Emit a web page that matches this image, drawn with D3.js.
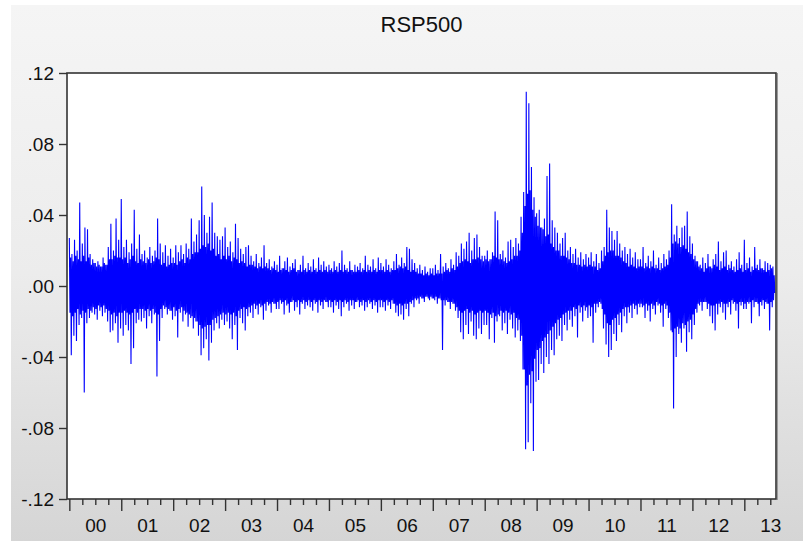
<!DOCTYPE html>
<html>
<head>
<meta charset="utf-8">
<script src="https://cdn.jsdelivr.net/npm/d3@7"></script>
<style>
  html, body { margin: 0; padding: 0; background: #ffffff; }
  svg { display: block; }
  text { font-family: "Liberation Sans", Arial, sans-serif; fill: #111; }
</style>
</head>
<body>
<svg id="chart" width="803" height="541"></svg>
<script>
// Chart title and tick labels
const title = "RSP500";
const yTicks = [-0.12, -0.08, -0.04, 0.00, 0.04, 0.08, 0.12];
const yTickLabels = ["-.12", "-.08", "-.04", ".00", ".04", ".08", ".12"];
const years = [2000, 2001, 2002, 2003, 2004, 2005, 2006, 2007, 2008, 2009, 2010, 2011, 2012, 2013];
const yearLabels = ["00", "01", "02", "03", "04", "05", "06", "07", "08", "09", "10", "11", "12", "13"];

// Return swings, in time order, 80 readings per year:
// groups of (up-swing, core low, core high, down-swing).
const r2000 = [.027,-.015,.016,-.039, .018,-.017,.014,-.028, .026,-.015,.017,-.031, .020,-.013,.015,-.022, .047,-.016,.014,-.018,
               .024,-.014,.017,-.060, .033,-.015,.014,-.021, .032,-.013,.016,-.018, .018,-.014,.012,-.015, .015,-.012,.013,-.016,
               .013,-.013,.011,-.019, .014,-.011,.012,-.014, .011,-.012,.011,-.017, .016,-.011,.013,-.015, .012,-.013,.012,-.020,
               .022,-.014,.015,-.026, .035,-.016,.015,-.025, .020,-.015,.017,-.021, .038,-.017,.016,-.032, .026,-.015,.016,-.024];
const r2001 = [.049,-.015,.015,-.028, .022,-.014,.016,-.022, .026,-.015,.013,-.025, .019,-.016,.015,-.044, .024,-.015,.017,-.035,
               .043,-.013,.014,-.021, .021,-.015,.013,-.019, .029,-.013,.015,-.020, .018,-.013,.014,-.018, .020,-.014,.013,-.024,
               .016,-.013,.015,-.017, .022,-.014,.013,-.021, .017,-.013,.014,-.016, .020,-.015,.016,-.051, .038,-.016,.015,-.031,
               .024,-.013,.012,-.018, .019,-.011,.013,-.013, .023,-.012,.011,-.016, .017,-.013,.012,-.014, .021,-.014,.013,-.019];
const r2002 = [.016,-.012,.013,-.017, .023,-.014,.012,-.029, .019,-.013,.014,-.015, .023,-.012,.015,-.020, .018,-.014,.013,-.016,
               .024,-.015,.016,-.023, .021,-.016,.015,-.018, .038,-.017,.018,-.024, .025,-.018,.019,-.020, .029,-.020,.019,-.028,
               .037,-.022,.021,-.039, .056,-.024,.023,-.035, .040,-.023,.022,-.030, .030,-.022,.024,-.042, .039,-.022,.020,-.032,
               .047,-.019,.021,-.025, .030,-.018,.017,-.021, .028,-.017,.018,-.024, .026,-.016,.015,-.019, .028,-.015,.017,-.022];
const r2003 = [.033,-.016,.015,-.020, .022,-.015,.017,-.024, .025,-.016,.014,-.030, .019,-.015,.016,-.022, .035,-.017,.015,-.036,
               .027,-.014,.013,-.018, .021,-.013,.014,-.021, .018,-.012,.013,-.025, .022,-.013,.011,-.017, .023,-.012,.012,-.015,
               .017,-.011,.012,-.018, .014,-.010,.011,-.013, .018,-.011,.010,-.016, .013,-.010,.011,-.012, .016,-.011,.010,-.019,
               .023,-.010,.011,-.014, .013,-.009,.010,-.011, .015,-.010,.009,-.015, .011,-.009,.010,-.010, .014,-.010,.009,-.013];
const r2004 = [.012,-.009,.008,-.013, .017,-.008,.009,-.010, .010,-.009,.010,-.016, .014,-.008,.009,-.011, .016,-.010,.008,-.015,
               .011,-.009,.009,-.009, .013,-.008,.010,-.014, .015,-.009,.008,-.012, .009,-.008,.009,-.016, .012,-.009,.008,-.010,
               .017,-.008,.009,-.013, .010,-.009,.008,-.011, .013,-.008,.009,-.012, .011,-.009,.008,-.014, .015,-.008,.009,-.010,
               .010,-.009,.008,-.015, .016,-.008,.009,-.011, .012,-.009,.008,-.013, .014,-.008,.009,-.009, .011,-.009,.008,-.012];
const r2005 = [.012,-.008,.009,-.012, .010,-.009,.008,-.015, .014,-.008,.009,-.011, .011,-.009,.008,-.013, .013,-.008,.009,-.017,
               .020,-.009,.008,-.012, .012,-.008,.009,-.010, .010,-.009,.008,-.014, .014,-.008,.009,-.011, .009,-.008,.008,-.013,
               .012,-.009,.008,-.009, .011,-.008,.009,-.012, .013,-.009,.008,-.011, .010,-.008,.009,-.014, .017,-.009,.008,-.012,
               .012,-.008,.009,-.010, .011,-.009,.008,-.013, .015,-.008,.009,-.011, .010,-.009,.008,-.015, .016,-.008,.009,-.012];
const r2006 = [.013,-.008,.009,-.012, .011,-.009,.008,-.014, .015,-.008,.009,-.011, .012,-.009,.008,-.013, .010,-.008,.009,-.010,
               .014,-.010,.009,-.015, .018,-.011,.010,-.017, .012,-.010,.011,-.016, .016,-.011,.010,-.019, .013,-.010,.011,-.013,
               .022,-.010,.009,-.017, .021,-.009,.008,-.010, .015,-.008,.009,-.012, .013,-.007,.008,-.008, .010,-.007,.007,-.010,
               .012,-.006,.007,-.007, .009,-.007,.006,-.009, .011,-.006,.007,-.006, .008,-.007,.006,-.008, .010,-.006,.007,-.007];
const r2007 = [.010,-.007,.006,-.008, .012,-.006,.007,-.010, .009,-.007,.007,-.007, .018,-.008,.007,-.036, .011,-.008,.008,-.011,
               .013,-.008,.009,-.009, .010,-.009,.008,-.013, .015,-.009,.010,-.010, .012,-.010,.009,-.014, .019,-.012,.011,-.018,
               .017,-.014,.013,-.026, .024,-.015,.014,-.030, .021,-.014,.015,-.022, .025,-.013,.014,-.027, .030,-.015,.013,-.020,
               .020,-.014,.015,-.028, .027,-.016,.015,-.030, .029,-.015,.016,-.024, .022,-.014,.015,-.027, .017,-.015,.014,-.022];
const r2008 = [.017,-.014,.015,-.022, .020,-.015,.014,-.030, .015,-.016,.015,-.018, .019,-.015,.017,-.032, .042,-.017,.016,-.020,
               .037,-.016,.015,-.017, .018,-.014,.015,-.025, .020,-.015,.014,-.021, .016,-.014,.013,-.027, .025,-.015,.014,-.019,
               .026,-.016,.015,-.024, .022,-.015,.017,-.029, .027,-.018,.017,-.025, .024,-.019,.020,-.031, .039,-.028,.030,-.047,
               .053,-.047,.045,-.092, .1095,-.056,.052,-.088, .103,-.050,.054,-.066, .067,-.048,.043,-.093, .050,-.041,.039,-.054];
const r2009 = [.041,-.036,.034,-.053, .043,-.035,.033,-.044, .033,-.031,.032,-.049, .038,-.029,.028,-.040, .062,-.027,.029,-.044,
               .069,-.025,.024,-.036, .037,-.023,.022,-.039, .033,-.021,.020,-.030, .030,-.019,.020,-.028, .024,-.018,.017,-.031,
               .027,-.016,.017,-.022, .030,-.015,.016,-.025, .020,-.014,.015,-.019, .022,-.014,.013,-.023, .018,-.012,.013,-.017,
               .021,-.013,.012,-.029, .016,-.011,.012,-.015, .019,-.012,.011,-.020, .015,-.011,.012,-.014, .018,-.012,.011,-.018];
const r2010 = [.016,-.011,.012,-.017, .019,-.012,.011,-.032, .014,-.010,.011,-.015, .018,-.010,.009,-.012, .013,-.009,.010,-.010,
               .020,-.013,.014,-.024, .022,-.016,.017,-.033, .043,-.021,.019,-.040, .033,-.022,.020,-.036, .031,-.019,.020,-.027,
               .026,-.018,.017,-.031, .031,-.016,.017,-.022, .024,-.015,.016,-.026, .020,-.013,.014,-.017, .022,-.012,.013,-.021,
               .018,-.012,.011,-.015, .021,-.011,.012,-.018, .016,-.010,.011,-.013, .019,-.011,.010,-.016, .015,-.010,.011,-.012];
const r2011 = [.015,-.010,.011,-.012, .022,-.011,.010,-.018, .013,-.010,.011,-.014, .017,-.011,.010,-.020, .014,-.010,.011,-.013,
               .020,-.011,.010,-.016, .012,-.009,.010,-.011, .016,-.010,.009,-.015, .013,-.011,.010,-.023, .018,-.010,.011,-.013,
               .015,-.011,.012,-.018, .020,-.015,.016,-.025, .046,-.026,.024,-.069, .029,-.024,.025,-.040, .034,-.023,.024,-.027,
               .027,-.024,.022,-.032, .033,-.021,.023,-.024, .034,-.022,.021,-.037, .042,-.020,.019,-.026, .028,-.019,.018,-.030];
const r2012 = [.024,-.016,.015,-.022, .017,-.013,.014,-.015, .014,-.010,.011,-.011, .012,-.009,.010,-.014, .016,-.009,.008,-.009,
               .013,-.009,.010,-.013, .018,-.010,.011,-.017, .011,-.011,.010,-.021, .015,-.011,.012,-.025, .018,-.010,.011,-.016,
               .025,-.010,.009,-.012, .014,-.009,.010,-.015, .019,-.010,.011,-.019, .020,-.010,.009,-.012, .012,-.009,.010,-.016,
               .014,-.008,.009,-.010, .011,-.009,.008,-.014, .015,-.010,.009,-.024, .019,-.009,.010,-.011, .012,-.009,.008,-.013];
const r2013 = [.026,-.010,.009,-.013, .013,-.009,.010,-.010, .016,-.009,.008,-.021, .011,-.008,.009,-.012, .022,-.009,.010,-.009,
               .012,-.010,.009,-.017, .015,-.009,.010,-.011, .010,-.008,.009,-.013, .014,-.009,.008,-.010, .013,-.010,.009,-.025,
               .012,-.009,.010,-.012, .011,-.008,.006,-.004];

const seriesByYear = [r2000, r2001, r2002, r2003, r2004, r2005, r2006, r2007, r2008, r2009, r2010, r2011, r2012, r2013];
const perYear = 80;

const data = [];
seriesByYear.forEach((arr, k) => {
  arr.forEach((v, i) => data.push({ t: years[k] + i / perYear, v: v }));
});

const W = 803, H = 541;
const plot = { left: 67, top: 73, right: 776, bottom: 499 };

const svg = d3.select("#chart");

// background panel
const defs = svg.append("defs");
const grad = defs.append("linearGradient").attr("id", "bg").attr("x1", 0).attr("y1", 0).attr("x2", 0).attr("y2", 1);
grad.append("stop").attr("offset", "0%").attr("stop-color", "#f5f5f5");
grad.append("stop").attr("offset", "50%").attr("stop-color", "#ececec");
grad.append("stop").attr("offset", "100%").attr("stop-color", "#d5d5d5");
svg.append("rect").attr("x", 0).attr("y", 0).attr("width", W).attr("height", H).attr("fill", "#ffffff");
svg.append("rect").attr("x", 11).attr("y", 5).attr("width", W - 11).attr("height", H - 5).attr("fill", "url(#bg)");

const x = d3.scaleLinear().domain([1999.955, 2013.61]).range([plot.left, plot.right]);
const y = d3.scaleLinear().domain([-0.12, 0.12]).range([plot.bottom, plot.top]);

// plot area
svg.append("rect")
  .attr("x", plot.left).attr("y", plot.top)
  .attr("width", plot.right - plot.left).attr("height", plot.bottom - plot.top)
  .attr("fill", "#ffffff");

// series line
const line = d3.line().x(d => x(d.t)).y(d => y(d.v));
svg.append("path")
  .datum(data)
  .attr("d", line)
  .attr("fill", "none")
  .attr("stroke", "#0000ff")
  .attr("stroke-width", 1.1)
  .attr("stroke-linejoin", "bevel");

// frame (right/bottom slightly heavier)
svg.append("rect")
  .attr("x", plot.left).attr("y", plot.top)
  .attr("width", plot.right - plot.left).attr("height", plot.bottom - plot.top)
  .attr("fill", "none").attr("stroke", "#333333").attr("stroke-width", 1.6);
svg.append("line").attr("x1", plot.right + 1.5).attr("x2", plot.right + 1.5)
  .attr("y1", plot.top).attr("y2", plot.bottom + 1).attr("stroke", "#9a9a9a").attr("stroke-width", 1);

// y axis
const yAxis = d3.axisLeft(y).tickValues(yTicks).tickSize(8).tickPadding(5)
  .tickFormat((d, i) => yTickLabels[i]);
const gy = svg.append("g").attr("transform", `translate(${plot.left},0)`).call(yAxis);
gy.select(".domain").remove();
gy.selectAll(".tick line").attr("stroke", "#333").attr("stroke-width", 1.4);
gy.selectAll(".tick text").attr("font-size", 19).attr("fill", "#111")
  .attr("font-family", "'Liberation Sans', Arial, sans-serif");

// x axis: quarterly minor ticks, yearly major ticks
const quarters = d3.range(0, 13 * 4 + 3).map(q => 2000 + q / 4);
const gx = svg.append("g").attr("transform", `translate(0,${plot.bottom})`);
gx.call(d3.axisBottom(x).tickValues(quarters).tickSize(6).tickFormat(""));
gx.select(".domain").remove();
gx.selectAll(".tick line")
  .attr("stroke", "#333").attr("stroke-width", 1.4)
  .attr("y2", d => (Math.abs(d - Math.round(d)) < 1e-9 ? 12 : 6));

// year labels centred within each year
const gl = svg.append("g").attr("transform", `translate(0,${plot.bottom})`);
gl.call(d3.axisBottom(x).tickValues(years.map(v => v + 0.5)).tickSize(0).tickPadding(20)
  .tickFormat((d, i) => yearLabels[i]));
gl.select(".domain").remove();
gl.selectAll(".tick text").attr("font-size", 19).attr("fill", "#111")
  .attr("font-family", "'Liberation Sans', Arial, sans-serif");

// title
svg.append("text")
  .attr("x", (plot.left + plot.right) / 2).attr("y", 32)
  .attr("text-anchor", "middle")
  .attr("font-size", 22)
  .text(title);
</script>
</body>
</html>
